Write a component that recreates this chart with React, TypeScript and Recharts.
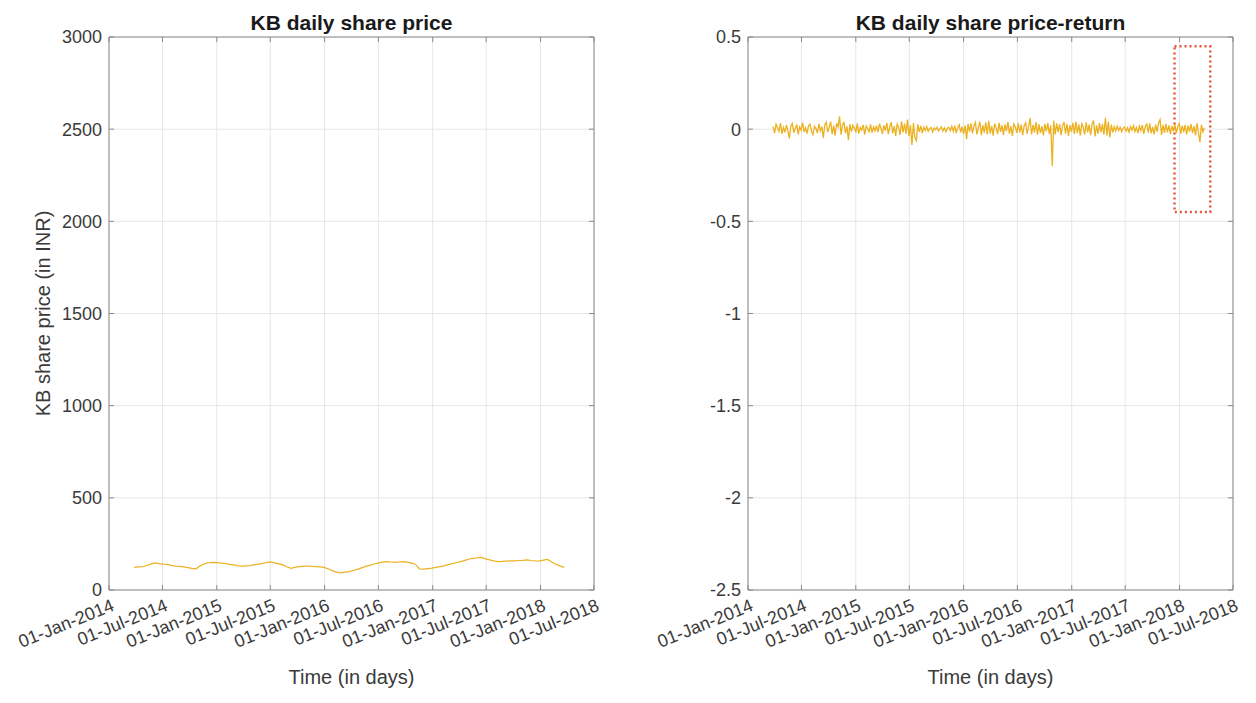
import React from 'react';
import { LineChart, Line, XAxis, YAxis, CartesianGrid, ReferenceArea } from 'recharts';

// ---- axis ticks ----
const xTickDates = [
  '2014-01-01', '2014-07-01', '2015-01-01', '2015-07-01', '2016-01-01',
  '2016-07-01', '2017-01-01', '2017-07-01', '2018-01-01', '2018-07-01',
];
const xTickLabels = [
  '01-Jan-2014', '01-Jul-2014', '01-Jan-2015', '01-Jul-2015', '01-Jan-2016',
  '01-Jul-2016', '01-Jan-2017', '01-Jul-2017', '01-Jan-2018', '01-Jul-2018',
];
const priceTicks = [0, 500, 1000, 1500, 2000, 2500, 3000];
const returnTicks = [-2.5, -2, -1.5, -1, -0.5, 0, 0.5];

// ---- KB share price (INR), sampled every 14 days ----
const priceStart = '2014-03-27';
const priceStepDays = 14;
const priceValues = [
  123, 125, 126, 133, 140, 147, 143, 140, 139, 134,
  130, 128, 125, 121, 117, 115, 131, 142, 148, 150,
  149, 146, 144, 139, 136, 132, 129, 131, 132, 136,
  140, 144, 149, 152, 147, 142, 136, 125, 117, 124,
  127, 129, 130, 128, 127, 125, 123, 114, 104, 97,
  93, 97, 100, 106, 112, 120, 128, 134, 141, 146,
  151, 154, 152, 150, 152, 154, 151, 147, 140, 115,
  113, 116, 119, 123, 127, 131, 138, 143, 149, 154,
  161, 168, 172, 175, 177, 169, 163, 158, 154, 155,
  157, 158, 158, 160, 161, 163, 160, 158, 157, 162,
  166, 152, 140, 131, 123,
];

// ---- KB share price return, sampled every 5 days ----
const returnStart = '2014-03-27';
const returnStepDays = 5;
const returnValues = [
  0.014, -0.021, 0.027, 0.006, -0.012, 0.033, -0.025, 0.009, -0.017, 0.022,
  -0.008, -0.050, 0.018, 0.031, -0.019, 0.004, 0.026, -0.028, 0.012, -0.006,
  0.035, -0.015, 0.008, -0.024, 0.019, 0.027, -0.011, -0.030, 0.016, 0.003,
  -0.021, 0.029, -0.009, 0.014, -0.048, 0.024, 0.038, -0.016, 0.011, 0.041,
  -0.027, 0.019, -0.035, 0.032, 0.012, 0.070, -0.030, 0.025, 0.036, -0.022,
  0.015, -0.060, 0.028, -0.013, 0.021, 0.007, -0.019, 0.031, -0.024, 0.010,
  -0.006, 0.023, -0.030, 0.017, 0.004, -0.014, 0.026, -0.020, 0.012, -0.009,
  0.019, -0.016, 0.029, 0.005, -0.025, 0.021, -0.008, 0.034, -0.027, 0.013,
  0.038, -0.022, 0.016, -0.036, 0.027, 0.009, -0.031, 0.043, -0.018, 0.030,
  -0.024, 0.052, -0.038, 0.021, -0.085, 0.033, -0.045, -0.062, 0.026, -0.015,
  0.018, -0.021, 0.011, -0.007, 0.014, -0.012, 0.004, 0.009, -0.016, 0.006,
  -0.003, 0.011, -0.009, 0.002, 0.013, -0.010, 0.007, -0.014, 0.005, 0.010,
  -0.008, 0.016, -0.012, 0.019, -0.021, 0.008, 0.024, -0.017, 0.013, -0.026,
  0.020, -0.055, 0.029, -0.014, 0.032, -0.023, 0.017, 0.036, -0.028, 0.010,
  0.041, -0.033, 0.022, -0.019, 0.037, -0.029, 0.045, -0.024, 0.018, -0.035,
  0.030, 0.008, -0.027, 0.034, -0.015, 0.022, -0.031, 0.026, -0.011, 0.039,
  -0.025, 0.017, -0.036, 0.028, 0.012, -0.020, 0.031, -0.018, 0.024, -0.032,
  0.019, 0.035, -0.026, 0.014, 0.060, -0.029, 0.023, -0.017, 0.038, -0.030,
  0.027, -0.021, 0.016, -0.034, 0.029, -0.012, 0.033, -0.026, 0.020, -0.200,
  0.045, -0.028, 0.031, -0.016, 0.027, -0.033, 0.018, 0.039, -0.024, 0.029,
  -0.037, 0.022, -0.015, 0.034, -0.027, 0.041, -0.021, 0.026, -0.035, 0.030,
  0.012, -0.029, 0.037, -0.018, 0.025, -0.032, 0.028, 0.047, -0.039, 0.021,
  -0.024, 0.033, -0.016, 0.027, -0.030, 0.062, -0.034, 0.040, -0.045, 0.024,
  -0.018, 0.013, -0.010, 0.016, -0.007, 0.011, -0.014, 0.006, 0.012, -0.011,
  0.008, -0.016, 0.014, -0.005, 0.019, -0.013, 0.009, -0.021, 0.017, -0.008,
  0.022, -0.026, 0.015, 0.028, -0.019, 0.031, -0.023, 0.012, -0.028, 0.025,
  -0.014, 0.034, 0.052, -0.031, 0.024, -0.020, 0.029, -0.017, 0.021, -0.027,
  0.018, -0.012, 0.026, -0.022, 0.014, 0.030, -0.025, 0.019, -0.016, 0.023,
  -0.029, 0.020, -0.013, 0.027, -0.021, 0.016, -0.034, 0.031, -0.018, -0.070,
  0.024, -0.015, 0.008,
];

// dotted highlight box on the return panel
const highlightDates = ['2017-12-15', '2018-04-15'];
const highlightRange = [-0.45, 0.45];

const DAY_MS = 86400000;
const xTickTimes = xTickDates.map((d) => Date.parse(d));
const xDomain: [number, number] = [xTickTimes[0], xTickTimes[xTickTimes.length - 1]];

const priceData = priceValues.map((price, i) => ({
  t: Date.parse(priceStart) + i * priceStepDays * DAY_MS,
  price,
}));
const returnData = returnValues.map((ret, i) => ({
  t: Date.parse(returnStart) + i * returnStepDays * DAY_MS,
  ret,
}));

const FONT = '"Liberation Sans", Arial, Helvetica, sans-serif';
const AXIS_COLOR = '#8a8a8a';
const GRID_COLOR = '#e6e6e6';
const TEXT_COLOR = '#3a3a3a';
const LINE_COLOR = '#EDB120';
const BOX_COLOR = '#E8563F';
const TICK_LEN = 5;

const BottomTick = (props: any) => {
  const { x, y, payload } = props;
  const idx = xTickTimes.indexOf(payload.value);
  return (
    <g>
      <line x1={x} x2={x} y1={y} y2={y - TICK_LEN} stroke={AXIS_COLOR} />
      <text
        x={0}
        y={0}
        dy="0.78em"
        transform={`translate(${x + 1},${y + 7}) rotate(-22)`}
        textAnchor="end"
        fontSize={18}
        fontFamily={FONT}
        fill={TEXT_COLOR}
      >
        {idx >= 0 ? xTickLabels[idx] : ''}
      </text>
    </g>
  );
};

const TopTick = (props: any) => {
  const { x, y } = props;
  return <line x1={x} x2={x} y1={y} y2={y + TICK_LEN} stroke={AXIS_COLOR} />;
};

const LeftTick = (props: any) => {
  const { x, y, payload } = props;
  return (
    <g>
      <line x1={x} x2={x + TICK_LEN} y1={y} y2={y} stroke={AXIS_COLOR} />
      <text
        x={x - 7}
        y={y}
        dy="0.36em"
        textAnchor="end"
        fontSize={18}
        fontFamily={FONT}
        fill={TEXT_COLOR}
      >
        {String(payload.value)}
      </text>
    </g>
  );
};

const RightTick = (props: any) => {
  const { x, y } = props;
  return <line x1={x} x2={x - TICK_LEN} y1={y} y2={y} stroke={AXIS_COLOR} />;
};

type PanelProps = {
  data: any[];
  dataKey: string;
  yTicks: number[];
  title: string;
  yLabel?: string;
  marginLeft: number;
  marginRight: number;
  plotLeft: number;
  plotRight: number;
  lineWidth: number;
  children?: React.ReactNode;
};

const CHART_W = 628;
const CHART_H = 703;
const PLOT_TOP = 37;
const PLOT_BOTTOM = 590;

const Panel = ({ data, dataKey, yTicks, title, yLabel, marginLeft, marginRight, plotLeft, plotRight, lineWidth, children }: PanelProps) => {
  const centerX = (plotLeft + plotRight) / 2;
  const centerY = (PLOT_TOP + PLOT_BOTTOM) / 2;
  const yDomain: [number, number] = [yTicks[0], yTicks[yTicks.length - 1]];
  return (
    <LineChart
      width={CHART_W}
      height={CHART_H}
      data={data}
      margin={{ top: PLOT_TOP - 5, bottom: CHART_H - PLOT_BOTTOM - 60, left: marginLeft, right: marginRight }}
    >
      <CartesianGrid stroke={GRID_COLOR} strokeWidth={1} />
      <XAxis
        dataKey="t"
        type="number"
        scale="time"
        domain={xDomain}
        ticks={xTickTimes}
        interval={0}
        allowDataOverflow
        height={60}
        tickSize={0}
        tickMargin={0}
        axisLine={{ stroke: AXIS_COLOR }}
        tickLine={false}
        tick={(p: any) => <BottomTick {...p} />}
      />
      <XAxis
        xAxisId="top"
        orientation="top"
        dataKey="t"
        type="number"
        scale="time"
        domain={xDomain}
        ticks={xTickTimes}
        interval={0}
        allowDataOverflow
        height={5}
        tickSize={0}
        tickMargin={0}
        axisLine={{ stroke: AXIS_COLOR }}
        tickLine={false}
        tick={(p: any) => <TopTick {...p} />}
      />
      <YAxis
        type="number"
        domain={yDomain}
        ticks={yTicks}
        interval={0}
        allowDataOverflow
        width={60}
        tickSize={0}
        tickMargin={0}
        axisLine={{ stroke: AXIS_COLOR }}
        tickLine={false}
        tick={(p: any) => <LeftTick {...p} />}
      />
      <YAxis
        yAxisId="right"
        orientation="right"
        type="number"
        domain={yDomain}
        ticks={yTicks}
        interval={0}
        allowDataOverflow
        width={5}
        tickSize={0}
        tickMargin={0}
        axisLine={{ stroke: AXIS_COLOR }}
        tickLine={false}
        tick={(p: any) => <RightTick {...p} />}
      />
      <Line
        type="linear"
        dataKey={dataKey}
        stroke={LINE_COLOR}
        strokeWidth={lineWidth}
        dot={false}
        isAnimationActive={false}
      />
      {children}
      <text x={centerX} y={30} textAnchor="middle" fontSize={21} fontWeight="bold" fontFamily={FONT} fill="#1a1a1a">
        {title}
      </text>
      <text x={centerX} y={684} textAnchor="middle" fontSize={20} fontFamily={FONT} fill={TEXT_COLOR}>
        Time (in days)
      </text>
      {yLabel ? (
        <text
          x={0}
          y={0}
          transform={`translate(50,${centerY}) rotate(-90)`}
          textAnchor="middle"
          fontSize={20}
          fontFamily={FONT}
          fill={TEXT_COLOR}
        >
          {yLabel}
        </text>
      ) : null}
    </LineChart>
  );
};

export default function App() {
  return (
    <div style={{ position: 'absolute', left: 0, top: 0, width: 1256, height: 703, background: '#fff' }}>
      <div style={{ position: 'absolute', left: 0, top: 0 }}>
        <Panel
          data={priceData}
          dataKey="price"
          yTicks={priceTicks}
          title="KB daily share price"
          yLabel="KB share price (in INR)"
          marginLeft={109 - 60}
          marginRight={CHART_W - 594 - 5}
          plotLeft={109}
          plotRight={594}
          lineWidth={1.2}
        />
      </div>
      <div style={{ position: 'absolute', left: CHART_W, top: 0 }}>
        <Panel
          data={returnData}
          dataKey="ret"
          yTicks={returnTicks}
          title="KB daily share price-return"
          marginLeft={748 - CHART_W - 60}
          marginRight={CHART_W - (1233 - CHART_W) - 5}
          plotLeft={748 - CHART_W}
          plotRight={1233 - CHART_W}
          lineWidth={1.3}
        >
          <ReferenceArea
            x1={Date.parse(highlightDates[0])}
            x2={Date.parse(highlightDates[1])}
            y1={highlightRange[0]}
            y2={highlightRange[1]}
            fill="none"
            fillOpacity={0}
            stroke={BOX_COLOR}
            strokeWidth={2.5}
            strokeDasharray="2 3"
            ifOverflow="visible"
          />
        </Panel>
      </div>
    </div>
  );
}
